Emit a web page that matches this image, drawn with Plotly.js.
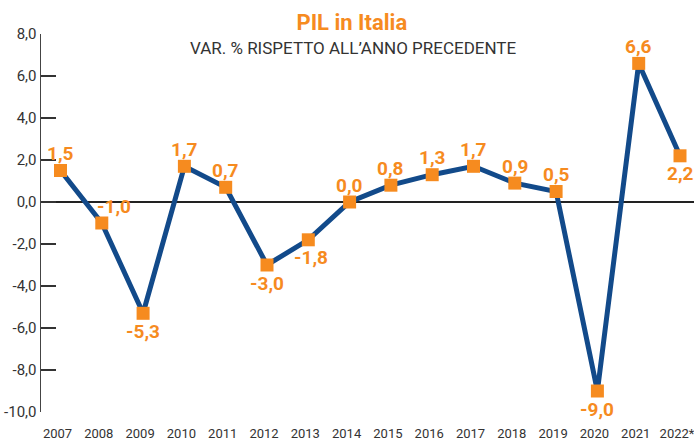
<!DOCTYPE html>
<html><head><meta charset="utf-8">
<script src="https://cdn.plot.ly/plotly-3.0.1.min.js"></script>
<style>html,body{margin:0;padding:0;background:#fff}#c{width:694px;height:441px}</style>
</head><body><div id="c"></div>
<script>
var years = ["2007","2008","2009","2010","2011","2012","2013","2014","2015","2016","2017","2018","2019","2020","2021","2022*"];
var pil = [1.5, -1.0, -5.3, 1.7, 0.7, -3.0, -1.8, 0.0, 0.8, 1.3, 1.7, 0.9, 0.5, -9.0, 6.6, 2.2];
var labelSide = ["up","upright","down","up","up","down","downright","up","up","up","up","up","up","down","up","down"];
var yTicks = [8, 6, 4, 2, 0, -2, -4, -6, -8, -10];

var FONT = "'Liberation Sans Narrow', 'Roboto', sans-serif";
var ORANGE = "#F68B1F";
var BLUE = "#124A8A";

function fmt(v){ return v.toFixed(1).replace('.', ','); }

var trace = {
  x: years, y: pil, type: 'scatter', mode: 'lines+markers',
  line: {color: BLUE, width: 5},
  marker: {symbol: 'square', size: 13, color: ORANGE},
  hoverinfo: 'skip'
};

var ann = years.map(function(yr, i){
  var s = labelSide[i];
  var ys = (s.indexOf('up') === 0) ? 17 : -18;
  var xs = (s === 'upright') ? 12 : (s === 'downright' ? 3 : 0);
  return {x: i, y: pil[i], text: fmt(pil[i]), showarrow: false,
    xshift: xs, yshift: ys, font: {family: FONT, size: 19, color: ORANGE, weight: 'bold'}};
});
ann.push({xref:'paper', yref:'paper', x: 0.478, y: 1, yanchor:'middle', yshift: -14, showarrow:false,
  text: 'VAR. % RISPETTO ALL\u2019ANNO PRECEDENTE', font:{family: FONT, size: 17, color:'#333'}});

var layout = {
  width: 694, height: 441,
  margin: {l: 41, r: 0, t: 34, b: 29},
  paper_bgcolor: '#fff', plot_bgcolor: '#fff',
  separators: ',.',
  showlegend: false,
  title: {text: '<b>PIL in Italia</b>', x: 0.507, xanchor: 'center', y: 0.95, yanchor: 'middle',
    font: {family: FONT, size: 22, color: ORANGE}},
  xaxis: {type: 'category', range: [-0.472, 15.339], showgrid: false, zeroline: false, showline: false,
    ticks: 'outside', ticklen: 9, tickcolor: 'rgba(0,0,0,0)', ticklabelshift: -3,
    tickfont: {family: FONT, size: 13, color: '#333'}, fixedrange: true},
  yaxis: {range: [-10, 8], tickvals: yTicks, ticktext: yTicks.map(fmt), showgrid: false,
    zeroline: true, zerolinecolor: '#222', zerolinewidth: 1.5,
    showline: true, linecolor: '#444', linewidth: 1.5,
    ticks: 'inside', ticklen: 15, tickcolor: '#333', tickwidth: 1.5,
    tickfont: {family: FONT, size: 15, color: '#333'}, fixedrange: true},
  annotations: ann
};
Plotly.newPlot('c', [trace], layout, {displayModeBar: false, staticPlot: true});
</script></body></html>
